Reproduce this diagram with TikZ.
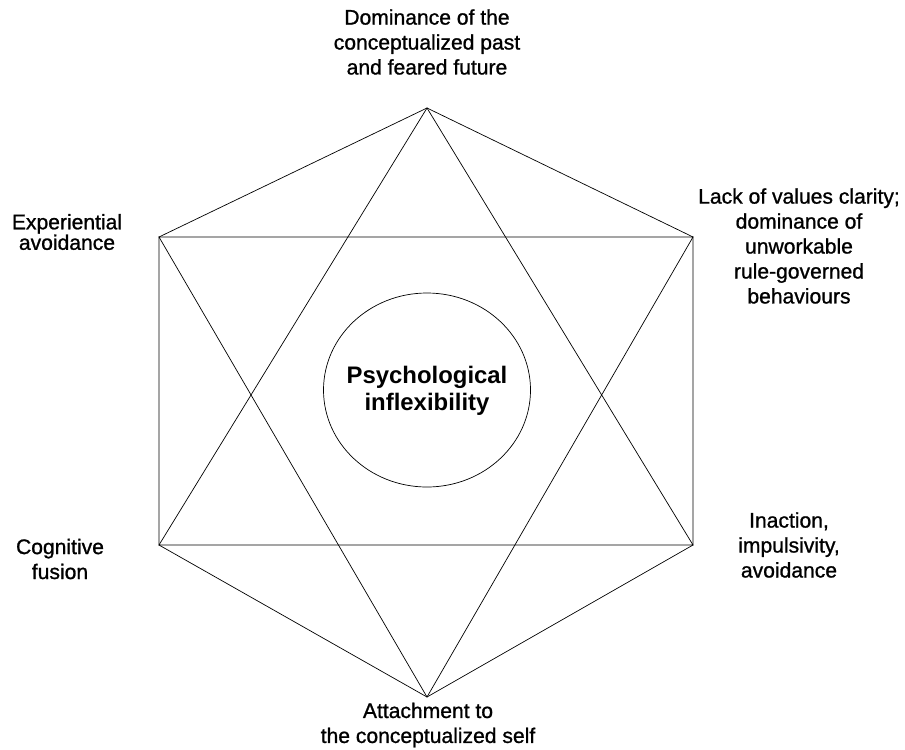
\documentclass[tikz,border=0pt]{standalone}
\usepackage{fontspec}
\setmainfont{Liberation Sans}
\newfontfamily\labelfont[FakeBold=1]{Liberation Sans}
\usepackage{tikz}

\begin{document}
\begin{tikzpicture}[
  x=0.03cm, y=-0.03cm,
  edge/.style={line width=0.6pt, black},
  corner/.style={align=center, inner sep=0pt, font=\labelfont\fontsize{18}{21.3}\selectfont},
  tight/.style={font=\labelfont\fontsize{18}{17.5}\selectfont},
  core/.style={align=center, inner sep=0pt, font=\fontsize{20.4}{23}\selectfont\bfseries}
]
\useasboundingbox (0,0) rectangle (905,749);

% Hexagon corners
\coordinate (top) at (427,108);
\coordinate (ur) at (693,237);
\coordinate (lr) at (693,545);
\coordinate (bot) at (427,697);
\coordinate (ll) at (159,545);
\coordinate (ul) at (159,237);

% Outline, two triangles and the two horizontals
\draw[edge] (top) -- (ur) -- (lr) -- (bot) -- (ll) -- (ul) -- cycle;
\draw[edge] (top) -- (lr) -- (ll) -- cycle;
\draw[edge] (bot) -- (ul) -- (ur) -- cycle;

% Centre
\node[core] (infl) at (427,391) {Psychological\\inflexibility};
\draw[edge] (427,390) ellipse [x radius=103.5, y radius=97];

% Labels
\node[corner] (past) at (427,42) {Dominance of the\\conceptualized past\\and feared future};
\node[corner] (values) at (799,246) {Lack of values clarity;\\dominance of\\unworkable\\rule-governed\\behaviours};
\node[corner, tight] (avoid) at (67,232) {Experiential\\avoidance};
\node[corner] (fusion) at (60,559) {Cognitive\\fusion};
\node[corner] (inaction) at (789,545) {Inaction,\\impulsivity,\\avoidance};
\node[corner] (self) at (428,725) {Attachment to\\the conceptualized self};

\end{tikzpicture}
\end{document}
